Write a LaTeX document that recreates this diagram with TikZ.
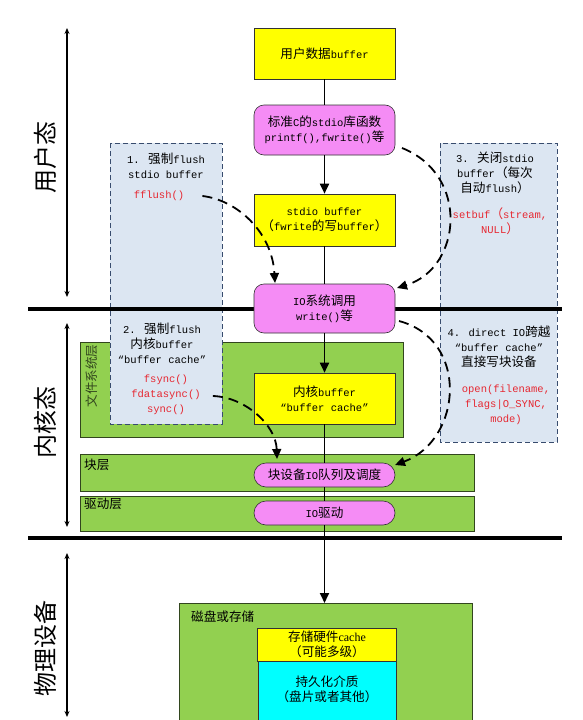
\documentclass[tikz,border=0pt]{standalone}
\usepackage{fontspec}
\setmainfont{Liberation Mono}
\newfontfamily\latinf{Liberation Mono}
\newfontfamily\cjkf[Scale=1.2]{Noto Sans CJK SC}
\newfontfamily\serifl{Liberation Serif}
\XeTeXinterchartokenstate=1
\newXeTeXintercharclass\CJKcls
\newcount\cjkcnt
\cjkcnt="4E00
\loop\ifnum\cjkcnt<"A000 \XeTeXcharclass\cjkcnt=\CJKcls \advance\cjkcnt 1 \repeat
\cjkcnt="FF00
\loop\ifnum\cjkcnt<"FFF0 \XeTeXcharclass\cjkcnt=\CJKcls \advance\cjkcnt 1 \repeat
\XeTeXcharclass"201C=0
\XeTeXcharclass"201D=0
\XeTeXinterchartoks 0 \CJKcls = {\cjkf}
\XeTeXinterchartoks 4095 \CJKcls = {\cjkf}
\XeTeXinterchartoks \CJKcls 0 = {\latinf}
\XeTeXinterchartoks 4095 0 = {\latinf}
\usetikzlibrary{arrows.meta}
\definecolor{ylw}{RGB}{255,255,0}
\definecolor{pnk}{RGB}{245,140,245}
\definecolor{grn}{RGB}{146,208,80}
\definecolor{lblue}{RGB}{220,230,242}
\definecolor{dblue}{RGB}{56,76,110}
\definecolor{cyn}{RGB}{0,255,255}
\definecolor{redt}{RGB}{230,40,50}
\definecolor{gborder}{RGB}{50,70,30}
\begin{document}
\begin{tikzpicture}[x=1pt,y=-1pt,
  every node/.style={font=\fontsize{10.5}{15}\selectfont, inner sep=0pt, align=center},
  ybox/.style={draw=black!80, line width=0.6pt, fill=ylw, minimum width=141pt},
  pbox/.style={draw=black!80, line width=0.6pt, fill=pnk, rounded corners=10pt, minimum width=141pt},
  layer/.style={draw=gborder, line width=0.7pt, fill=grn},
  bluebox/.style={draw=dblue, line width=1pt, dash pattern=on 5pt off 3pt, fill=lblue},
  thickline/.style={line width=4pt},
  span/.style={line width=1.2pt, {Stealth[length=6pt,width=5pt]}-{Stealth[length=6pt,width=5pt]}},
  mainline/.style={line width=1.8pt},
  mainarrow/.style={line width=1.8pt, -{Triangle[length=10pt,width=9pt]}},
  dcurve/.style={line width=1.8pt, dash pattern=on 10pt off 6pt, -{Triangle[length=10pt,width=9pt]}},
  redtxt/.style={text=redt},
  biglabel/.style={font=\fontsize{20}{24}\selectfont, rotate=90}
]
\useasboundingbox (0,0) rectangle (583,720);
\fill[white] (0,0) rectangle (583,720);

% layers
\draw[layer] (80,342) rectangle (403,437);
\draw[layer] (80,454) rectangle (474,491);
\draw[layer] (80,496) rectangle (474,531);
\fill[grn] (179,603) rectangle (472,720);
\draw[gborder, line width=0.7pt] (179,720) -- (179,603) -- (472,603) -- (472,720);

% blue dashed boxes
\draw[bluebox] (110,143) rectangle (222,424);
\draw[bluebox] (440,143) rectangle (557,442);

% thick separators
\coordinate (s1a) at (28,309); \coordinate (s1b) at (562,309);
\coordinate (s2a) at (28,538); \coordinate (s2b) at (562,538);
\draw[thickline] (s1a) -- (s1b);
\draw[thickline] (s2a) -- (s2b);

% left spans
\coordinate (u1) at (67,28);  \coordinate (u2) at (67,297);
\coordinate (k1) at (67,323); \coordinate (k2) at (67,527);
\coordinate (p1) at (67,553); \coordinate (p2) at (67,717);
\draw[span] (u1) -- (u2);
\draw[span] (k1) -- (k2);
\draw[span] (p1) -- (p2);
\node[biglabel] (luser) at (45,157) {用户态};
\node[biglabel] (lkern) at (45,422) {内核态};
\node[biglabel] (lphys) at (45,648) {物理设备};

% main boxes
\node[ybox, minimum height=51pt] (ub) at (324.5,53.5) {用户数据buffer};
\node[pbox, minimum height=50pt] (lib) at (324.5,130) {标准C的stdio库函数\\printf(),fwrite()等};
\node[ybox, minimum height=52pt] (sbuf) at (324.5,220) {stdio buffer\\（fwrite的写buffer）};
\node[pbox, minimum height=49pt] (io) at (324.5,308.5) {IO系统调用\\write()等};
\node[ybox, minimum height=51pt] (kbuf) at (324.5,398.5) {内核buffer\\“buffer cache”};
\node[pbox, rounded corners=12pt, minimum height=24pt] (blk) at (324.5,475) {块设备IO队列及调度};
\node[pbox, rounded corners=12pt, minimum height=24pt] (drv) at (324.5,513) {IO驱动};

% disk inner
\node[fill=ylw, draw=black!80, line width=0.6pt, minimum width=139pt, minimum height=33pt,
  font={\fontsize{10.5}{15}\selectfont\XeTeXinterchartokenstate=0}] (hc) at (327,644.5)
  {{\cjkf 存储硬件}{\serifl\fontsize{12}{15}\selectfont cache}\\{\cjkf （可能多级）}};
\fill[cyn] (258,661) rectangle (396,720);
\draw[black!80, line width=0.6pt] (258,720) -- (258,661) -- (396,661) -- (396,720);
\node (pm) at (327,689.5) {持久化介质\\（盘片或者其他）};
\node[anchor=west] (ldisk) at (191,617) {磁盘或存储};
\coordinate (disktop) at (324.5,603);

% center connectors
\draw[mainline] (ub) -- (lib);
\draw[mainarrow] (lib) -- (sbuf);
\draw[mainline] (sbuf) -- (io);
\draw[mainarrow] (io) -- (kbuf);
\draw[mainline] (kbuf) -- (blk);
\draw[mainline] (blk) -- (drv);
\draw[mainarrow] (drv) -- (disktop);

% layer labels
\node[anchor=west] (lblk) at (84,465) {块层};
\node[anchor=west] (ldrv) at (84,504) {驱动层};
\node[rotate=90, text=gborder] (lfs) at (92,376) {文件系统层};

% blue box texts
\node (t1) at (166,165.5) {1. 强制flush\\stdio buffer};
\node[redtxt] (ff) at (159,196) {fflush()};
\node (t2) at (162,343.7) {2. 强制flush\\内核buffer\\“buffer cache”};
\node[redtxt] (fs) at (166,395) {fsync()\\fdatasync()\\sync()};
\node (t3) at (495,173) {3. 关闭stdio\\buffer（每次\\自动flush）};
\node[redtxt] (sb) at (500,221.5) {setbuf（stream,\\NULL）};
\node (t4) at (499,347) {4. direct IO跨越\\“buffer cache”\\直接写块设备};
\node[redtxt] (op) at (506,405) {open(filename,\\flags|O\_SYNC,\\mode)};

% dashed curves
\coordinate (c2s) at (402,148);
\coordinate (c2e) at (397,288);
\coordinate (c1e) at (275,283);
\coordinate (c3e) at (277,459);
\coordinate (c4s) at (399,321);
\coordinate (c4e) at (395,465);
\draw[dcurve] ([xshift=18pt]ff.east) .. controls (237,200) and (272,232) .. (c1e);
\draw[dcurve] (c2s) .. controls (470,175) and (462,268) .. (c2e);
\draw[dcurve] ([xshift=12pt,yshift=-1pt]fs.east) .. controls (245,397) and (276,425) .. (c3e);
\draw[dcurve] (c4s) .. controls (470,340) and (462,440) .. (c4e);
\end{tikzpicture}
\end{document}
